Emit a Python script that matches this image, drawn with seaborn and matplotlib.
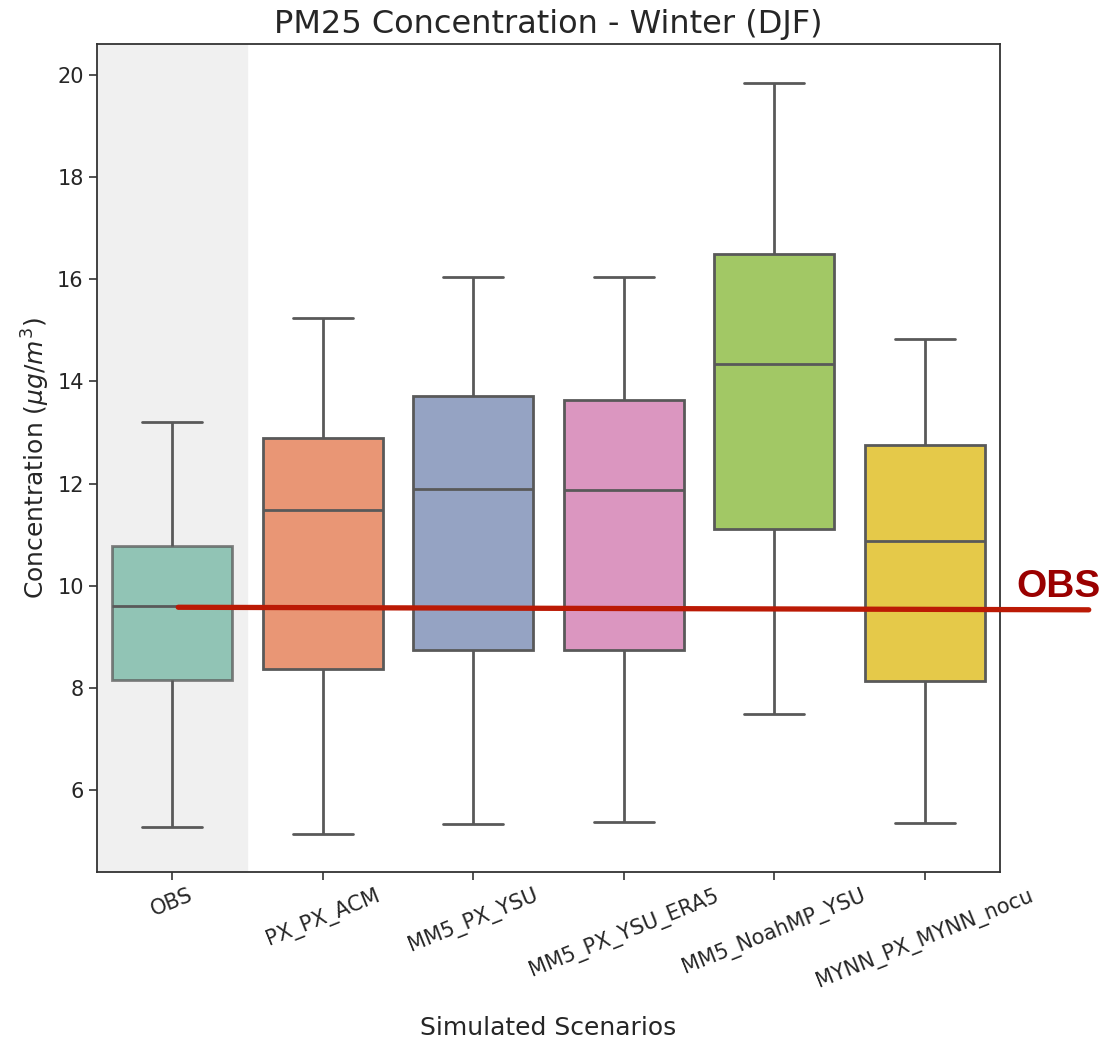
import numpy as np
import pandas as pd
import matplotlib
matplotlib.use("Agg")
import matplotlib.pyplot as plt
from matplotlib.patches import PathPatch
import seaborn as sns

scenarios = ["OBS", "PX_PX_ACM", "MM5_PX_YSU", "MM5_PX_YSU_ERA5", "MM5_NoahMP_YSU", "MYNN_PX_MYNN_nocu"]
whisker_low = [5.28, 5.14, 5.34, 5.37, 7.49, 5.36]
q1 = [8.15, 8.38, 8.74, 8.74, 11.12, 8.13]
median = [9.60, 11.49, 11.90, 11.88, 14.33, 10.87]
q3 = [10.78, 12.90, 13.72, 13.63, 16.50, 12.75]
whisker_high = [13.21, 15.23, 16.05, 16.05, 19.84, 14.82]
obs_line_x = [0.04, 6.09]
obs_line_y = [9.58, 9.53]

rows = []
for i, s in enumerate(scenarios):
    for v in (whisker_low[i], q1[i], median[i], q3[i], whisker_high[i]):
        rows.append({"Scenario": s, "Concentration": v})
df = pd.DataFrame(rows)

sns.set_theme(style="ticks")
fig = plt.figure(figsize=(11.07, 10.38), dpi=100)
ax = fig.add_axes([0.0876, 0.1599, 0.8157, 0.7977])

ax.axvspan(-0.5, 0.5, color="#f0f0f0", zorder=0)
sns.boxplot(data=df, x="Scenario", y="Concentration", hue="Scenario",
            order=scenarios, palette="Set2", whis=(0, 100), linewidth=2,
            legend=False, ax=ax)
boxes = [p for p in ax.patches if isinstance(p, PathPatch)]
if boxes:
    boxes[0].set_alpha(0.75)

ax.plot(obs_line_x, obs_line_y, color="#bb1a05", linewidth=3.8, clip_on=False, zorder=5)
ax.text(1.018, 9.78, "OBS", transform=ax.get_yaxis_transform(), color="#9a0000",
        fontsize=28, fontweight="bold", family="Liberation Sans", ha="left", va="baseline")

ax.set_xlim(-0.5, 5.5)
ax.set_ylim(4.4, 20.6)
ax.set_yticks([6, 8, 10, 12, 14, 16, 18, 20])
ax.tick_params(axis="both", labelsize=15, length=6, width=1.2, color="#333333")
for lab in ax.get_xticklabels():
    lab.set_rotation(22)
    lab.set_ha("center")
for sp in ax.spines.values():
    sp.set_linewidth(1.3)
    sp.set_color("#333333")
ax.set_xlabel("Simulated Scenarios", fontsize=18)
ax.xaxis.set_label_coords(0.5, -0.174)
ax.set_ylabel(r"Concentration ($\mu g/m^3$)", fontsize=18)
ax.set_title("PM25 Concentration - Winter (DJF)", fontsize=23, pad=8)

fig.savefig("out.png", dpi=100)
